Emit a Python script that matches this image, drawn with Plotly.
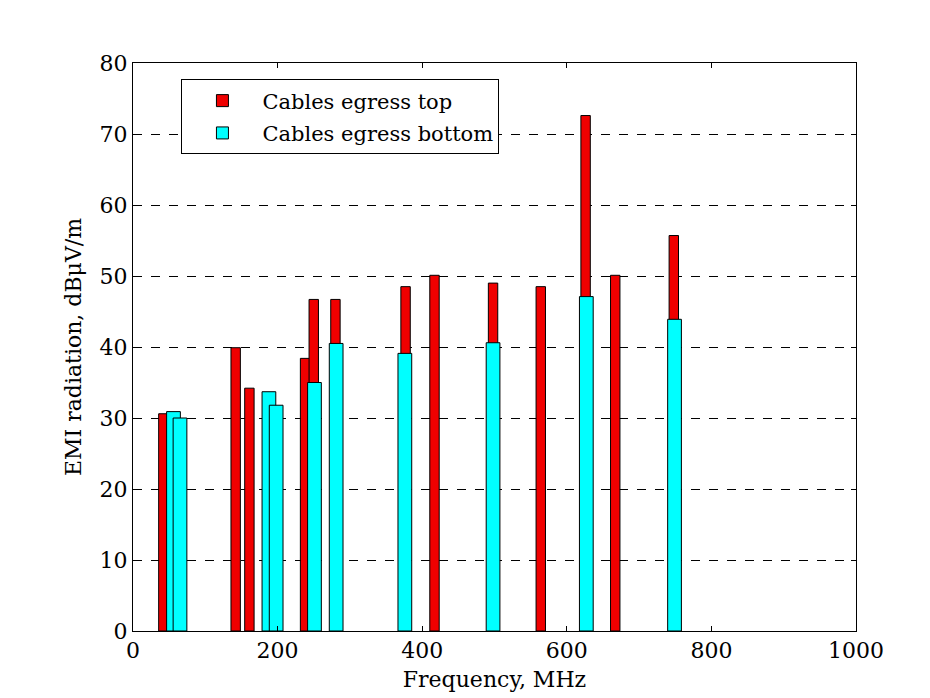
import plotly.graph_objects as go

# Data
red_freq = [42, 142, 161, 238, 250, 280, 377, 417, 498, 564, 626, 667, 748]
red_vals = [30.6, 39.9, 34.2, 38.4, 46.7, 46.7, 48.5, 50.1, 49.0, 48.5, 72.6, 50.1, 55.7]
cyan_freq = [56, 65, 188, 198, 251, 281, 376, 498, 627, 749]
cyan_vals = [30.9, 30.0, 33.7, 31.8, 35.0, 40.5, 39.1, 40.6, 47.1, 43.9]
x_ticks = [0, 200, 400, 600, 800, 1000]
y_ticks = [0, 10, 20, 30, 40, 50, 60, 70, 80]

FONT = "DejaVu Serif"

fig = go.Figure()
fig.add_trace(go.Bar(
    x=red_freq, y=red_vals, width=13, name="Cables egress top",
    legendgroup="top",
    marker=dict(color="#f00000", line=dict(color="black", width=1)),
))
fig.add_trace(go.Bar(
    x=cyan_freq, y=cyan_vals, width=19, name="Cables egress bottom",
    legendgroup="bottom",
    marker=dict(color="#00ffff", line=dict(color="black", width=1)),
))

fig.update_layout(
    width=930, height=698,
    margin=dict(l=133, r=74, t=63, b=67),
    paper_bgcolor="white", plot_bgcolor="white",
    barmode="overlay",
    font=dict(family=FONT, size=22, color="black"),
    showlegend=True,
    legend=dict(
        x=0.067, y=0.971, xanchor="left", yanchor="top",
        bgcolor="white", bordercolor="black", borderwidth=1,
        font=dict(family=FONT, size=21), itemwidth=70,
        entrywidth=340, entrywidthmode="pixels",
        traceorder="grouped", tracegroupgap=2,
    ),
    xaxis=dict(
        range=[0, 1000], tickvals=x_ticks, ticktext=[str(v) for v in x_ticks],
        showline=True, linecolor="black", linewidth=1, mirror="allticks",
        ticks="inside", ticklen=5, tickcolor="black",
        showgrid=False, zeroline=False, automargin=False,
        tickfont=dict(family=FONT, size=22),
        title=dict(text="Frequency, MHz", standoff=9, font=dict(family=FONT, size=22)),
    ),
    yaxis=dict(
        range=[0, 80], tickvals=y_ticks, ticktext=[str(v) for v in y_ticks],
        showline=True, linecolor="black", linewidth=1, mirror="allticks",
        ticks="inside", ticklen=5, tickcolor="black",
        showgrid=True, gridcolor="black", gridwidth=1, griddash="dash",
        zeroline=False, automargin=False,
        tickfont=dict(family=FONT, size=22),
        title=dict(text="EMI radiation, dBμV/m", standoff=11, font=dict(family=FONT, size=22)),
    ),
)

fig.write_html("out.html")
